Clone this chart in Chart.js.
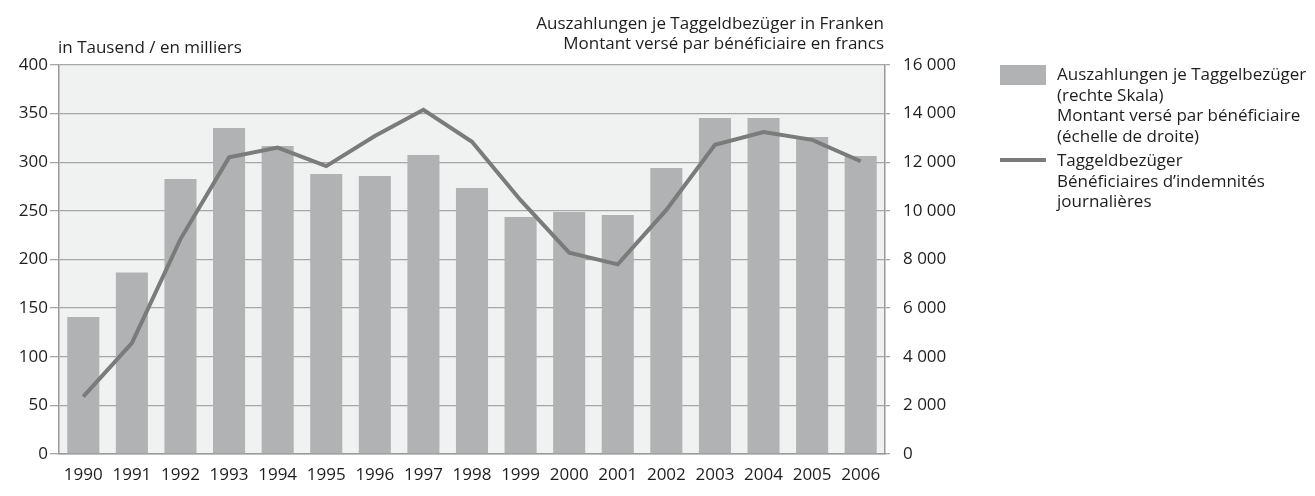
<!DOCTYPE html>
<html>
<head>
<meta charset="utf-8">
<script src="https://cdn.jsdelivr.net/npm/chart.js@4/dist/chart.umd.min.js"></script>
<style>
  html, body { margin: 0; padding: 0; background: #ffffff; }
  #wrap { position: relative; width: 1315px; height: 496px; font-family: "Open Sans", sans-serif; color: #1e1e1e; }
  canvas { position: absolute; left: 0; top: 0; }
  .t { position: absolute; font-size: 17px; line-height: 20px; white-space: nowrap; }
  #legend { position: absolute; left: 1000px; top: 64px; font-size: 17px; line-height: 20.5px; white-space: nowrap; }
  .row { position: relative; padding-left: 57px; }
  .box { position: absolute; left: 0; top: 1px; width: 46px; height: 20px; background: #b1b2b4; }
  .ln { position: absolute; left: 0; top: 8px; width: 46px; height: 4px; background: #7b7b7b; }
</style>
</head>
<body>
<div id="wrap">
  <canvas id="c" width="1315" height="496"></canvas>
  <div class="t" style="left:58px; top:37px;">in Tausend / en milliers</div>
  <div class="t" style="right:431px; top:13px; text-align:right;">Auszahlungen je Taggeldbezüger in Franken<br>Montant versé par bénéficiaire en francs</div>
  <div id="legend">
    <div class="row"><div class="box"></div>Auszahlungen je Taggelbezüger<br>(rechte Skala)<br>Montant versé par bénéficiaire<br>(échelle de droite)</div>
    <div class="row" style="margin-top:4px;"><div class="ln"></div>Taggeldbezüger<br>Bénéficiaires d’indemnités<br>journalières</div>
  </div>
</div>
<script>
const years = ['1990','1991','1992','1993','1994','1995','1996','1997','1998','1999','2000','2001','2002','2003','2004','2005','2006'];
// Auszahlungen je Taggeldbezüger in Franken (right scale)
const payoutPerRecipient = [5630, 7470, 11310, 13410, 12670, 11520, 11430, 12300, 10940, 9750, 9950, 9830, 11760, 13820, 13820, 13040, 12260];
// Taggeldbezüger in Tausend (left scale)
const recipients = [59, 114, 221, 305, 315, 296, 327, 354, 321, 261, 207, 195, 251, 318, 331, 323, 301];
const leftTicks = [0, 50, 100, 150, 200, 250, 300, 350, 400];
const rightTicks = ['0', '2 000', '4 000', '6 000', '8 000', '10 000', '12 000', '14 000', '16 000'];

const FONT = { family: '"Open Sans", sans-serif', size: 17 };
const bgPlugin = {
  id: 'bg',
  beforeDraw(chart) {
    const { ctx, chartArea: a } = chart;
    ctx.save();
    ctx.fillStyle = '#f0f1f1';
    ctx.fillRect(a.left, a.top, a.right - a.left, a.bottom - a.top);
    ctx.restore();
  }
};

new Chart(document.getElementById('c'), {
  data: {
    labels: years,
    datasets: [
      {
        type: 'line', label: 'Taggeldbezüger', data: recipients, yAxisID: 'y',
        borderColor: '#7b7b7b', borderWidth: 4, pointRadius: 0, tension: 0, order: 0,
        borderJoinStyle: 'miter'
      },
      {
        type: 'bar', label: 'Auszahlungen je Taggelbezüger', data: payoutPerRecipient, yAxisID: 'y1',
        backgroundColor: '#b1b2b4', barPercentage: 0.66, categoryPercentage: 1.0, order: 1
      }
    ]
  },
  options: {
    responsive: false, animation: false,
    layout: { padding: { top: 65, right: 350, left: 0, bottom: 0 } },
    plugins: { legend: { display: false }, tooltip: { enabled: false } },
    scales: {
      x: {
        grid: { display: false, drawTicks: false },
        border: { display: true, color: '#9a9a9a', width: 1.5 },
        ticks: { font: FONT, color: '#1e1e1e', padding: 11, maxRotation: 0, autoSkip: false },
        afterFit(s) { s.height = 42; }
      },
      y: {
        position: 'left', min: 0, max: 400,
        afterBuildTicks(s) { s.ticks = leftTicks.map(v => ({ value: v })); },
        grid: { color: '#a6a6a6', lineWidth: 1.3, tickLength: 9, tickColor: '#a6a6a6' },
        border: { display: true, color: '#9a9a9a', width: 1.5 },
        ticks: { font: FONT, color: '#1e1e1e', padding: 2 },
        afterFit(s) { s.width = 59; }
      },
      y1: {
        position: 'right', min: 0, max: 16000,
        afterBuildTicks(s) { s.ticks = rightTicks.map((_, i) => ({ value: i * 2000 })); },
        grid: { drawOnChartArea: false, color: '#a6a6a6', lineWidth: 1.3, tickLength: 5, tickColor: '#a6a6a6' },
        border: { display: true, color: '#9a9a9a', width: 1.5 },
        ticks: { font: FONT, color: '#1e1e1e', padding: 13, callback: (v, i) => rightTicks[i] },
        afterFit(s) { s.width = 80; }
      }
    }
  },
  plugins: [bgPlugin]
});
</script>
</body>
</html>
